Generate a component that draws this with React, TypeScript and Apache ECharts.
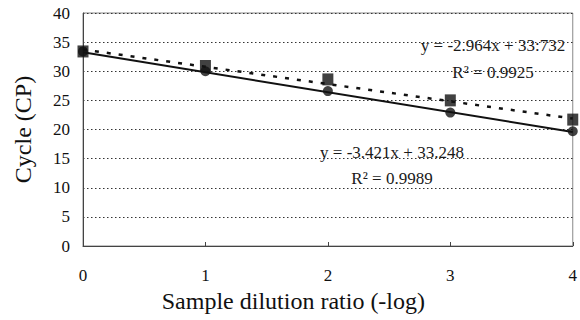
import React, { useEffect, useRef } from "react";
import * as echarts from "echarts";

const dilution = [0, 1, 2, 3, 4];
const squareCycles = [33.4, 30.9, 28.6, 25.0, 21.7];
const circleCycles = [33.4, 30.0, 26.6, 22.9, 19.7];
const trendX = [0, 4];
const trendSquare = [33.732, 21.876];
const trendCircle = [33.248, 19.564];
const yTicks = [0, 5, 10, 15, 20, 25, 30, 35, 40];
const eqSquare = "y = -2.964x + 33:732";
const r2Square = "R² = 0.9925";
const eqCircle = "y = -3.421x + 33.248";
const r2Circle = "R² = 0.9989";

const FONT = "'Liberation Serif', 'Times New Roman', serif";

export default function App() {
  const ref = useRef<HTMLDivElement>(null);
  useEffect(() => {
    if (!ref.current) return;
    const chart = echarts.init(ref.current, null, { renderer: "svg" });
    const pts = (ys: number[]) => dilution.map((x, i) => [x, ys[i]]);
    const tl = (ys: number[]) => trendX.map((x, i) => [x, ys[i]]);
    const ann = (x: number, y: number, text: string) => ({
      type: "text",
      x,
      y,
      style: { text, font: `17px ${FONT}`, fill: "#1a1a1a", align: "center", verticalAlign: "middle" },
    });
    chart.setOption({
      animation: false,
      backgroundColor: "#fff",
      textStyle: { fontFamily: FONT },
      grid: {
        left: 83,
        right: 4,
        top: 13,
        bottom: 74,
        show: true,
        borderColor: "#888",
        borderWidth: 1,
      },
      xAxis: {
        type: "value",
        min: 0,
        max: 4,
        interval: 1,
        name: "Sample dilution ratio (-log)",
        nameLocation: "middle",
        nameGap: 38,
        nameTextStyle: {
          fontFamily: FONT,
          fontSize: 24,
          color: "#111",
          padding: [0, 69, 0, 0],
        },
        axisLine: { show: true, lineStyle: { color: "#444", width: 1 } },
        axisTick: { show: true, inside: true, length: 4, lineStyle: { color: "#444" } },
        axisLabel: { fontFamily: FONT, fontSize: 17, color: "#111", margin: 21 },
        splitLine: { show: false },
      },
      yAxis: {
        type: "value",
        min: 0,
        max: 40,
        interval: 5,
        name: "Cycle (CP)",
        nameLocation: "middle",
        nameGap: 48,
        nameTextStyle: { fontFamily: FONT, fontSize: 24, color: "#111" },
        axisLine: { show: true, lineStyle: { color: "#444", width: 1 } },
        axisTick: { show: false },
        axisLabel: {
          fontFamily: FONT,
          fontSize: 17,
          color: "#111",
          margin: 13,
          formatter: (v: number) => (yTicks.includes(v) ? String(v) : ""),
        },
        splitLine: {
          show: true,
          lineStyle: { color: "#333", type: [1.5, 2.5], width: 1 },
        },
      },
      series: [
        {
          type: "line",
          data: tl(trendCircle),
          symbol: "none",
          lineStyle: { color: "#111", width: 2 },
          z: 2,
        },
        {
          type: "line",
          data: tl(trendSquare),
          symbol: "none",
          lineStyle: { color: "#111", width: 2.5, type: [4, 8] },
          z: 2,
        },
        {
          type: "scatter",
          data: pts(circleCycles),
          symbol: "circle",
          symbolSize: 10,
          itemStyle: { color: "#111" },
          z: 3,
        },
        {
          type: "scatter",
          data: pts(squareCycles),
          symbol: "rect",
          symbolSize: [11, 12],
          itemStyle: { color: "#111" },
          z: 4,
        },
      ],
      graphic: [
        ann(493, 45, eqSquare),
        ann(493, 72, r2Square),
        ann(392, 152, eqCircle),
        ann(392, 178, r2Circle),
      ],
    });
    return () => chart.dispose();
  }, []);
  return <div ref={ref} style={{ width: 580, height: 320, position: "absolute", left: 0, top: 0 }} />;
}
